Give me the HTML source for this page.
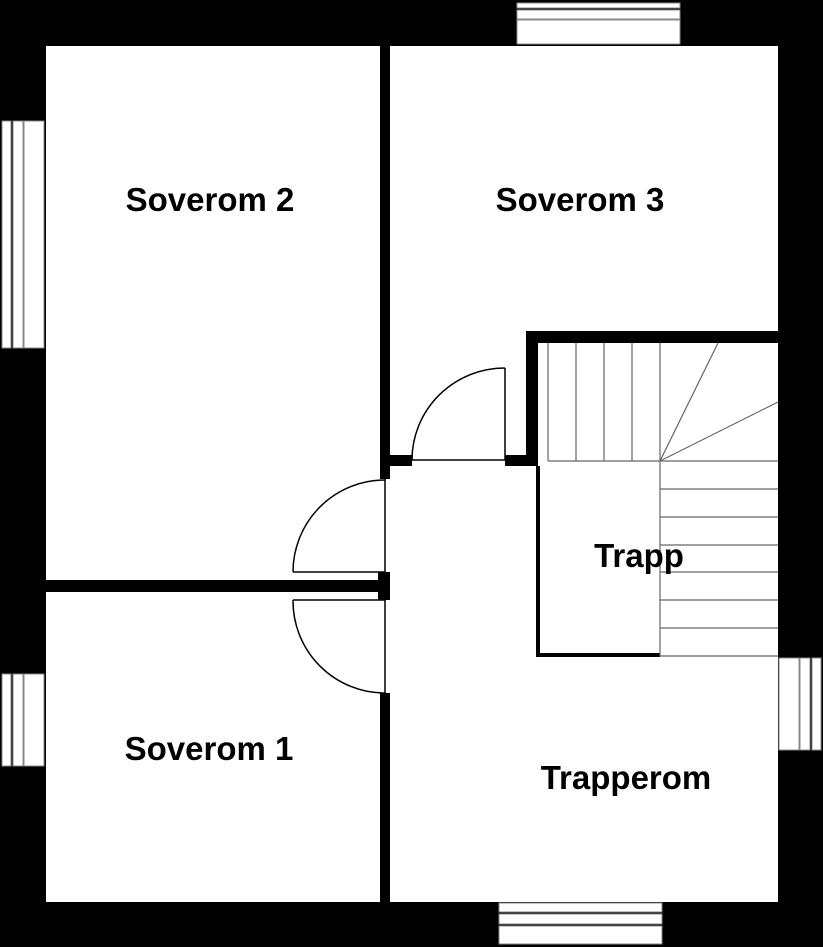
<!DOCTYPE html>
<html><head><style>html,body{margin:0;padding:0;background:#fff}svg{display:block}
text{font-family:"Liberation Sans",sans-serif;font-weight:bold;font-size:33px;fill:#000;text-anchor:middle}</style></head>
<body>
<svg width="823" height="947" viewBox="0 0 823 947" xmlns="http://www.w3.org/2000/svg">
<rect x="0" y="0" width="823" height="947" fill="#000"/>
<rect x="46" y="46" width="732" height="856" fill="#fff"/>
<g fill="#fff" stroke="#888" stroke-width="1">
<rect x="517" y="3" width="163" height="5"/><rect x="517" y="10" width="163" height="9"/><rect x="517" y="20" width="163" height="24"/>
<rect x="499" y="903" width="163" height="9"/><rect x="499" y="914" width="163" height="10"/><rect x="499" y="926" width="163" height="18"/>
<rect x="2" y="121" width="9" height="227"/><rect x="13" y="121" width="10" height="227"/><rect x="24" y="121" width="20" height="227"/>
<rect x="2" y="674" width="9" height="92"/><rect x="13" y="674" width="10" height="92"/><rect x="24" y="674" width="20" height="92"/>
<rect x="779" y="658" width="20" height="92"/><rect x="800" y="658" width="10" height="92"/><rect x="812" y="658" width="9" height="92"/>
</g>
<g fill="#000">
<rect x="380" y="46" width="10" height="433"/>
<rect x="380" y="455" width="32" height="11"/>
<rect x="46" y="580" width="334" height="12"/>
<rect x="378" y="572" width="12" height="28"/>
<rect x="380" y="693" width="10" height="209"/>
<rect x="505" y="455" width="33" height="11"/>
<rect x="526" y="331" width="12" height="135"/>
<rect x="526" y="331" width="252" height="12"/>
<rect x="536" y="466" width="4" height="190"/>
<rect x="536" y="653" width="124" height="4"/>
</g>
<g fill="none" stroke="#000" stroke-width="1.5">
<line x1="385" y1="479" x2="385" y2="693"/>
<line x1="293" y1="572" x2="385" y2="572"/>
<line x1="293" y1="600" x2="385" y2="600"/>
<path d="M385 480 A92 92 0 0 0 293 572"/>
<path d="M293 600 A92 92 0 0 0 385 693"/>
<line x1="505" y1="368" x2="505" y2="460"/>
<line x1="412" y1="460" x2="505" y2="460"/>
<path d="M505 368 A93 92 0 0 0 412 460"/>
</g>
<g stroke="#666" stroke-width="1.2" fill="none">
<line x1="548" y1="343" x2="548" y2="461"/>
<line x1="576" y1="343" x2="576" y2="461"/>
<line x1="604" y1="343" x2="604" y2="461"/>
<line x1="632" y1="343" x2="632" y2="461"/>
<line x1="660" y1="343" x2="660" y2="656"/>
<line x1="548" y1="461" x2="778" y2="461"/>
<line x1="660" y1="461" x2="718" y2="343"/>
<line x1="660" y1="461" x2="778" y2="402"/>
<line x1="660" y1="489" x2="778" y2="489"/>
<line x1="660" y1="517" x2="778" y2="517"/>
<line x1="660" y1="545" x2="778" y2="545"/>
<line x1="660" y1="572" x2="778" y2="572"/>
<line x1="660" y1="600" x2="778" y2="600"/>
<line x1="660" y1="628" x2="778" y2="628"/>
<line x1="660" y1="656" x2="778" y2="656"/>
</g>
<text x="210" y="211">Soverom 2</text>
<text x="580" y="211">Soverom 3</text>
<text x="639" y="567">Trapp</text>
<text x="209" y="760">Soverom 1</text>
<text x="626" y="789">Trapperom</text>
</svg>
</body></html>
